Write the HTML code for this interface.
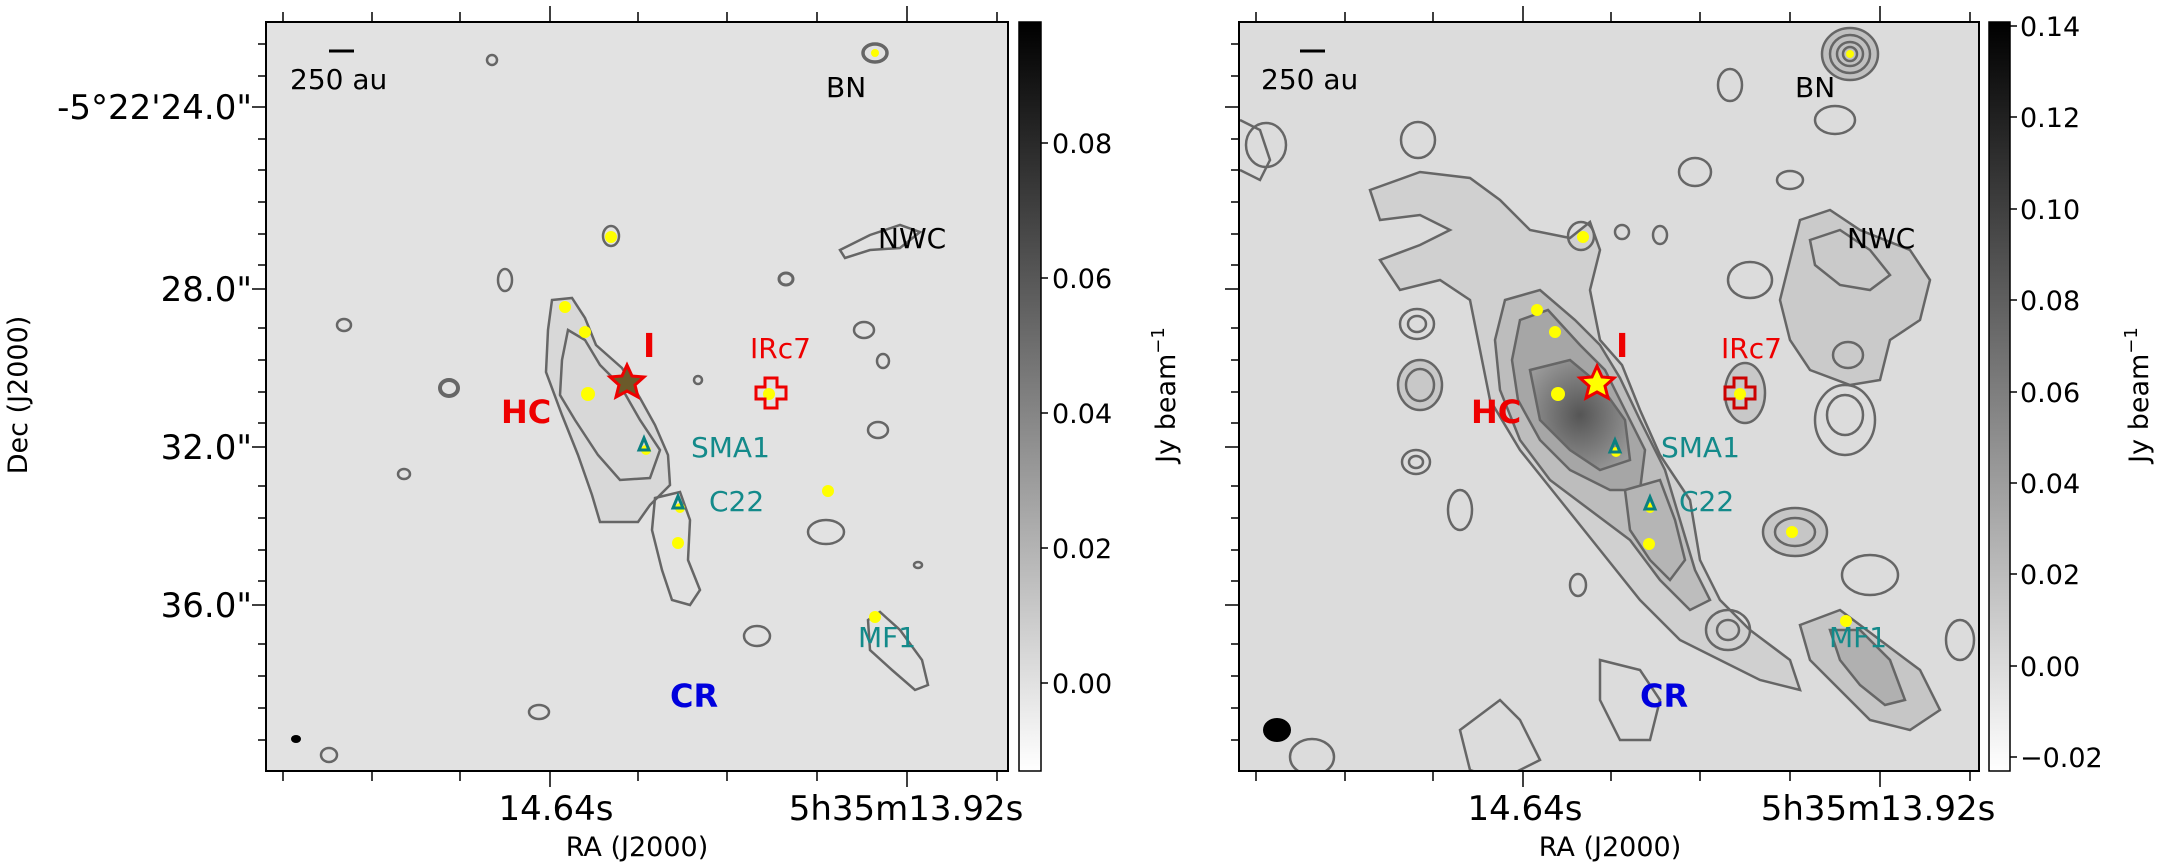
<!DOCTYPE html>
<html><head><meta charset="utf-8"><style>
html,body{margin:0;padding:0;background:#fff}
svg{display:block;font-family:"DejaVu Sans","Liberation Sans",sans-serif}
</style></head><body>
<svg width="2170" height="868" viewBox="0 0 2170 868" xmlns="http://www.w3.org/2000/svg">
<defs>
<linearGradient id="cb" x1="0" y1="1" x2="0" y2="0"><stop offset="0" stop-color="#fff"/><stop offset="1" stop-color="#000"/></linearGradient>
<radialGradient id="core" cx="0.5" cy="0.5" r="0.6"><stop offset="0" stop-color="#555"/><stop offset="1" stop-color="#9a9a9a"/></radialGradient>
<clipPath id="cl"><rect x="266" y="22" width="742" height="749"/></clipPath>
<clipPath id="cr"><rect x="1239" y="22" width="740" height="749"/></clipPath>
</defs>

<!-- LEFT PANEL -->
<rect x="266" y="22" width="742" height="749" fill="#e2e2e2"/>
<g clip-path="url(#cl)" fill="none" stroke="#666" stroke-width="2.5">
<path d="M552,300 L572,298 L585,318 L596,345 L622,368 L640,398 L655,425 L668,455 L670,485 L650,505 L638,522 L600,522 L592,495 L578,455 L562,415 L546,372 L548,330 Z" fill="#d8d8d8"/>
<path d="M568,330 L585,340 L600,365 L620,385 L640,420 L660,450 L650,478 L620,480 L598,455 L575,420 L560,395 L562,360 Z"/>
<path d="M655,498 L680,492 L690,520 L688,560 L700,590 L690,605 L672,600 L662,570 L652,530 Z"/>
<ellipse cx="611" cy="236" rx="8" ry="10"/>
<ellipse cx="875" cy="53" rx="12" ry="9" stroke-width="3.5"/>
<path d="M840,250 L870,235 L900,225 L920,232 L900,248 L870,250 L845,258 Z"/>
<ellipse cx="492" cy="60" rx="5" ry="5"/>
<ellipse cx="505" cy="280" rx="7" ry="11"/>
<ellipse cx="344" cy="325" rx="7" ry="6"/>
<ellipse cx="449" cy="388" rx="9" ry="8" stroke-width="4"/>
<ellipse cx="404" cy="474" rx="6" ry="5"/>
<ellipse cx="786" cy="279" rx="7" ry="6" stroke-width="3"/>
<ellipse cx="864" cy="330" rx="10" ry="8"/>
<ellipse cx="883" cy="361" rx="6" ry="7"/>
<ellipse cx="878" cy="430" rx="10" ry="8"/>
<ellipse cx="826" cy="532" rx="18" ry="12"/>
<ellipse cx="918" cy="565" rx="4" ry="3"/>
<ellipse cx="757" cy="636" rx="13" ry="10"/>
<path d="M868,620 L880,612 L900,630 L922,660 L928,685 L915,690 L892,670 L870,650 Z"/>
<ellipse cx="539" cy="712" rx="10" ry="7"/>
<ellipse cx="329" cy="755" rx="8" ry="7"/>
<ellipse cx="698" cy="380" rx="4" ry="4"/>
</g>
<ellipse cx="296" cy="739" rx="5" ry="4" fill="#000"/>
<g fill="#ffff00">
<circle cx="611" cy="237" r="6"/><circle cx="565" cy="307" r="6"/><circle cx="585" cy="332" r="6"/><circle cx="588" cy="394" r="7"/>
<circle cx="678" cy="543" r="6"/><circle cx="828" cy="491" r="6"/><circle cx="875" cy="617" r="6"/><circle cx="769" cy="394" r="6"/><circle cx="875" cy="53" r="4"/>
<circle cx="646" cy="450" r="5"/><circle cx="680" cy="508" r="5"/>
</g>
<path d="M627,365 L632,376 L644,377 L635,385 L638,397 L627,391 L616,397 L619,385 L610,377 L622,376 Z" fill="#6b5a2a" stroke="#e00" stroke-width="3"/>
<path d="M765,378 h12 v9 h9 v12 h-9 v9 h-12 v-9 h-9 v-12 h9 Z" fill="none" stroke="#e00" stroke-width="3"/>
<path d="M644,438 l-5,12 h10 Z" fill="none" stroke="#0a8080" stroke-width="3"/>
<path d="M678,496 l-5,12 h10 Z" fill="none" stroke="#0a8080" stroke-width="3"/>
<line x1="329" y1="51" x2="354" y2="51" stroke="#000" stroke-width="3"/>
<g font-size="28" fill="#000"><text x="290" y="89">250 au</text><text x="826" y="97">BN</text><text x="878" y="248">NWC</text></g>
<text x="643" y="357" font-size="33" font-weight="bold" fill="#e00">I</text>
<text x="501" y="423" font-size="32" font-weight="bold" fill="#e00">HC</text>
<text x="750" y="358" font-size="28" fill="#e00">IRc7</text>
<g font-size="28" fill="#138a8a"><text x="691" y="457">SMA1</text><text x="709" y="511">C22</text><text x="858" y="647">MF1</text></g>
<text x="670" y="707" font-size="32" font-weight="bold" fill="#00d">CR</text>
<rect x="266" y="22" width="742" height="749" fill="none" stroke="#000" stroke-width="2"/>
<g stroke="#000" stroke-width="1.5">
<path d="M283,22v-10M372,22v-10M460,22v-10M550,22v-16M638,22v-10M727,22v-10M817,22v-10M907,22v-16M997,22v-10"/>
<path d="M283,771v10M372,771v10M460,771v10M550,771v16M638,771v10M727,771v10M817,771v10M907,771v16M997,771v10"/>
<path d="M266,44h-8M266,76h-8M266,107h-14M266,139h-8M266,170h-8M266,202h-8M266,234h-8M266,265h-8M266,289h-14M266,328h-8M266,360h-8M266,392h-8M266,423h-8M266,447h-14M266,486h-8M266,518h-8M266,550h-8M266,581h-8M266,605h-14M266,644h-8M266,676h-8M266,708h-8M266,740h-8"/>
</g>
<g font-size="34" fill="#000" text-anchor="end"><text x="252" y="119">-5°22'24.0"</text><text x="252" y="301">28.0"</text><text x="252" y="459">32.0"</text><text x="252" y="617">36.0"</text></g>
<g font-size="34" fill="#000" text-anchor="middle"><text x="556" y="820">14.64s</text><text x="906" y="820">5h35m13.92s</text></g>
<text x="637" y="856" font-size="27" text-anchor="middle">RA (J2000)</text>
<text transform="translate(27,395) rotate(-90)" font-size="27" text-anchor="middle">Dec (J2000)</text>
<!-- left colorbar -->
<rect x="1019" y="22" width="22" height="749" fill="url(#cb)" stroke="#000" stroke-width="1.5"/>
<g stroke="#000" stroke-width="1.5"><path d="M1041,143h7M1041,278h7M1041,413h7M1041,548h7M1041,683h7"/></g>
<g font-size="27" fill="#000"><text x="1052" y="153">0.08</text><text x="1052" y="288">0.06</text><text x="1052" y="423">0.04</text><text x="1052" y="558">0.02</text><text x="1052" y="693">0.00</text></g>
<text transform="translate(1175,395) rotate(-90)" font-size="27" text-anchor="middle">Jy beam<tspan dy="-11" font-size="18">−1</tspan></text>

<!-- RIGHT PANEL -->
<rect x="1239" y="22" width="740" height="749" fill="#dcdcdc"/>
<g clip-path="url(#cr)" fill="none" stroke="#666" stroke-width="2.5">
<path d="M1370,190 L1420,172 L1470,178 L1500,200 L1530,230 L1570,238 L1590,222 L1600,250 L1590,290 L1600,340 L1622,365 L1640,410 L1660,455 L1690,500 L1700,560 L1720,600 L1750,630 L1790,660 L1800,690 L1760,680 L1720,660 L1680,640 L1640,600 L1600,550 L1560,500 L1520,450 L1490,400 L1478,340 L1470,300 L1440,280 L1400,290 L1380,260 L1420,245 L1450,230 L1420,215 L1380,220 Z" fill="#d0d0d0"/>
<path d="M1505,300 L1540,290 L1575,320 L1600,345 L1620,378 L1640,420 L1665,470 L1680,520 L1695,570 L1710,600 L1690,610 L1660,580 L1630,540 L1590,510 L1550,480 L1520,440 L1500,390 L1495,340 Z" fill="#bdbdbd"/>
<path d="M1520,320 L1548,310 L1580,345 L1605,370 L1625,410 L1645,450 L1640,490 L1610,490 L1570,470 L1540,440 L1518,400 L1512,360 Z" fill="#a6a6a6"/>
<path d="M1530,370 L1570,360 L1600,385 L1625,420 L1630,460 L1600,470 L1570,450 L1540,420 Z" fill="url(#core)"/>
<path d="M1625,490 L1660,480 L1675,520 L1685,560 L1670,580 L1650,560 L1630,530 Z" fill="#b5b5b5"/>
<ellipse cx="1581" cy="236" rx="13" ry="14"/>
<ellipse cx="1850" cy="54" rx="28" ry="26" fill="#c0c0c0"/><ellipse cx="1850" cy="54" rx="20" ry="19"/><ellipse cx="1850" cy="54" rx="13" ry="12"/><ellipse cx="1850" cy="54" rx="7" ry="7"/>
<path d="M1800,220 L1830,210 L1860,230 L1910,250 L1930,280 L1920,320 L1890,340 L1880,380 L1850,385 L1810,370 L1790,340 L1780,300 L1790,260 Z" fill="#cacaca"/>
<path d="M1810,240 L1840,230 L1870,250 L1890,275 L1870,290 L1840,285 L1815,265 Z"/>
<ellipse cx="1848" cy="355" rx="15" ry="13"/>
<ellipse cx="1750" cy="280" rx="22" ry="18"/>
<ellipse cx="1745" cy="393" rx="20" ry="30" fill="#c8c8c8"/>
<ellipse cx="1845" cy="420" rx="30" ry="35"/><ellipse cx="1845" cy="415" rx="18" ry="20"/>
<ellipse cx="1795" cy="532" rx="32" ry="24" fill="#c6c6c6"/><ellipse cx="1795" cy="532" rx="20" ry="14"/>
<ellipse cx="1870" cy="575" rx="28" ry="20"/>
<path d="M1800,625 L1840,610 L1880,640 L1920,670 L1940,710 L1910,730 L1870,720 L1840,690 L1810,660 Z" fill="#c6c6c6"/>
<path d="M1830,630 L1860,630 L1890,660 L1905,700 L1885,705 L1860,685 L1840,660 Z" fill="#b0b0b0"/>
<ellipse cx="1728" cy="630" rx="22" ry="20"/><ellipse cx="1728" cy="630" rx="11" ry="10"/>
<ellipse cx="1417" cy="324" rx="17" ry="15"/><ellipse cx="1417" cy="324" rx="9" ry="8"/>
<ellipse cx="1416" cy="462" rx="14" ry="12"/><ellipse cx="1416" cy="462" rx="7" ry="6"/>
<ellipse cx="1420" cy="385" rx="22" ry="25" fill="#c8c8c8"/><ellipse cx="1420" cy="385" rx="14" ry="16"/>
<ellipse cx="1266" cy="145" rx="20" ry="22"/>
<ellipse cx="1418" cy="140" rx="17" ry="18"/>
<ellipse cx="1695" cy="172" rx="16" ry="14"/>
<ellipse cx="1660" cy="235" rx="7" ry="9"/>
<ellipse cx="1622" cy="232" rx="7" ry="7"/>
<ellipse cx="1730" cy="85" rx="12" ry="16"/>
<ellipse cx="1835" cy="120" rx="20" ry="14"/>
<ellipse cx="1790" cy="180" rx="13" ry="9"/>
<ellipse cx="1460" cy="510" rx="12" ry="20"/>
<ellipse cx="1578" cy="585" rx="8" ry="11"/>
<path d="M1600,660 L1640,670 L1660,700 L1650,740 L1620,740 L1600,700 Z"/>
<path d="M1460,730 L1500,700 L1520,720 L1540,760 L1500,780 L1470,770 Z"/>
<ellipse cx="1312" cy="757" rx="22" ry="18"/>
<ellipse cx="1960" cy="640" rx="14" ry="20"/>
<path d="M1240,120 L1260,130 L1270,160 L1260,180 L1240,170"/>
</g>
<ellipse cx="1277" cy="730" rx="14" ry="12" fill="#000"/>
<g fill="#ffff00">
<circle cx="1583" cy="237" r="6"/><circle cx="1537" cy="310" r="6"/><circle cx="1555" cy="332" r="6"/><circle cx="1558" cy="394" r="7"/>
<circle cx="1649" cy="544" r="6"/><circle cx="1792" cy="532" r="6"/><circle cx="1846" cy="621" r="6"/><circle cx="1740" cy="394" r="6"/><circle cx="1850" cy="54" r="4"/>
<circle cx="1616" cy="452" r="5"/><circle cx="1650" cy="508" r="5"/>
</g>
<path d="M1597,366 L1602,377 L1614,378 L1605,386 L1608,398 L1597,392 L1586,398 L1589,386 L1580,378 L1592,377 Z" fill="#ff0" stroke="#e00" stroke-width="3"/>
<path d="M1734,378 h12 v9 h9 v12 h-9 v9 h-12 v-9 h-9 v-12 h9 Z" fill="none" stroke="#c00" stroke-width="3"/>
<path d="M1615,440 l-5,12 h10 Z" fill="none" stroke="#0a8080" stroke-width="3"/>
<path d="M1650,497 l-5,12 h10 Z" fill="none" stroke="#0a8080" stroke-width="3"/>
<line x1="1300" y1="51" x2="1325" y2="51" stroke="#000" stroke-width="3"/>
<g font-size="28" fill="#000"><text x="1261" y="89">250 au</text><text x="1795" y="97">BN</text><text x="1847" y="248">NWC</text></g>
<text x="1616" y="357" font-size="33" font-weight="bold" fill="#e00">I</text>
<text x="1471" y="423" font-size="32" font-weight="bold" fill="#e00">HC</text>
<text x="1721" y="358" font-size="28" fill="#e00">IRc7</text>
<g font-size="28" fill="#138a8a"><text x="1661" y="457">SMA1</text><text x="1679" y="511">C22</text><text x="1829" y="647">MF1</text></g>
<text x="1640" y="707" font-size="32" font-weight="bold" fill="#00d">CR</text>
<rect x="1239" y="22" width="740" height="749" fill="none" stroke="#000" stroke-width="2"/>
<g stroke="#000" stroke-width="1.5">
<path d="M1256,22v-10M1345,22v-10M1433,22v-10M1523,22v-16M1611,22v-10M1700,22v-10M1790,22v-10M1880,22v-16M1970,22v-10"/>
<path d="M1256,771v10M1345,771v10M1433,771v10M1523,771v16M1611,771v10M1700,771v10M1790,771v10M1880,771v16M1970,771v10"/>
<path d="M1239,44h-8M1239,76h-8M1239,107h-14M1239,139h-8M1239,170h-8M1239,202h-8M1239,234h-8M1239,265h-8M1239,289h-14M1239,328h-8M1239,360h-8M1239,392h-8M1239,423h-8M1239,447h-14M1239,486h-8M1239,518h-8M1239,550h-8M1239,581h-8M1239,605h-14M1239,644h-8M1239,676h-8M1239,708h-8M1239,740h-8"/>
</g>
<g font-size="34" fill="#000" text-anchor="middle"><text x="1525" y="820">14.64s</text><text x="1878" y="820">5h35m13.92s</text></g>
<text x="1610" y="856" font-size="27" text-anchor="middle">RA (J2000)</text>
<rect x="1989" y="22" width="21" height="749" fill="url(#cb)" stroke="#000" stroke-width="1.5"/>
<g stroke="#000" stroke-width="1.5"><path d="M2010,26h7M2010,117h7M2010,209h7M2010,300h7M2010,392h7M2010,483h7M2010,574h7M2010,666h7M2010,757h7"/></g>
<g font-size="27" fill="#000"><text x="2020" y="36">0.14</text><text x="2020" y="127">0.12</text><text x="2020" y="219">0.10</text><text x="2020" y="310">0.08</text><text x="2020" y="402">0.06</text><text x="2020" y="493">0.04</text><text x="2020" y="584">0.02</text><text x="2020" y="676">0.00</text><text x="2020" y="767">−0.02</text></g>
<text transform="translate(2148,395) rotate(-90)" font-size="27" text-anchor="middle">Jy beam<tspan dy="-11" font-size="18">−1</tspan></text>
</svg>
</body></html>
